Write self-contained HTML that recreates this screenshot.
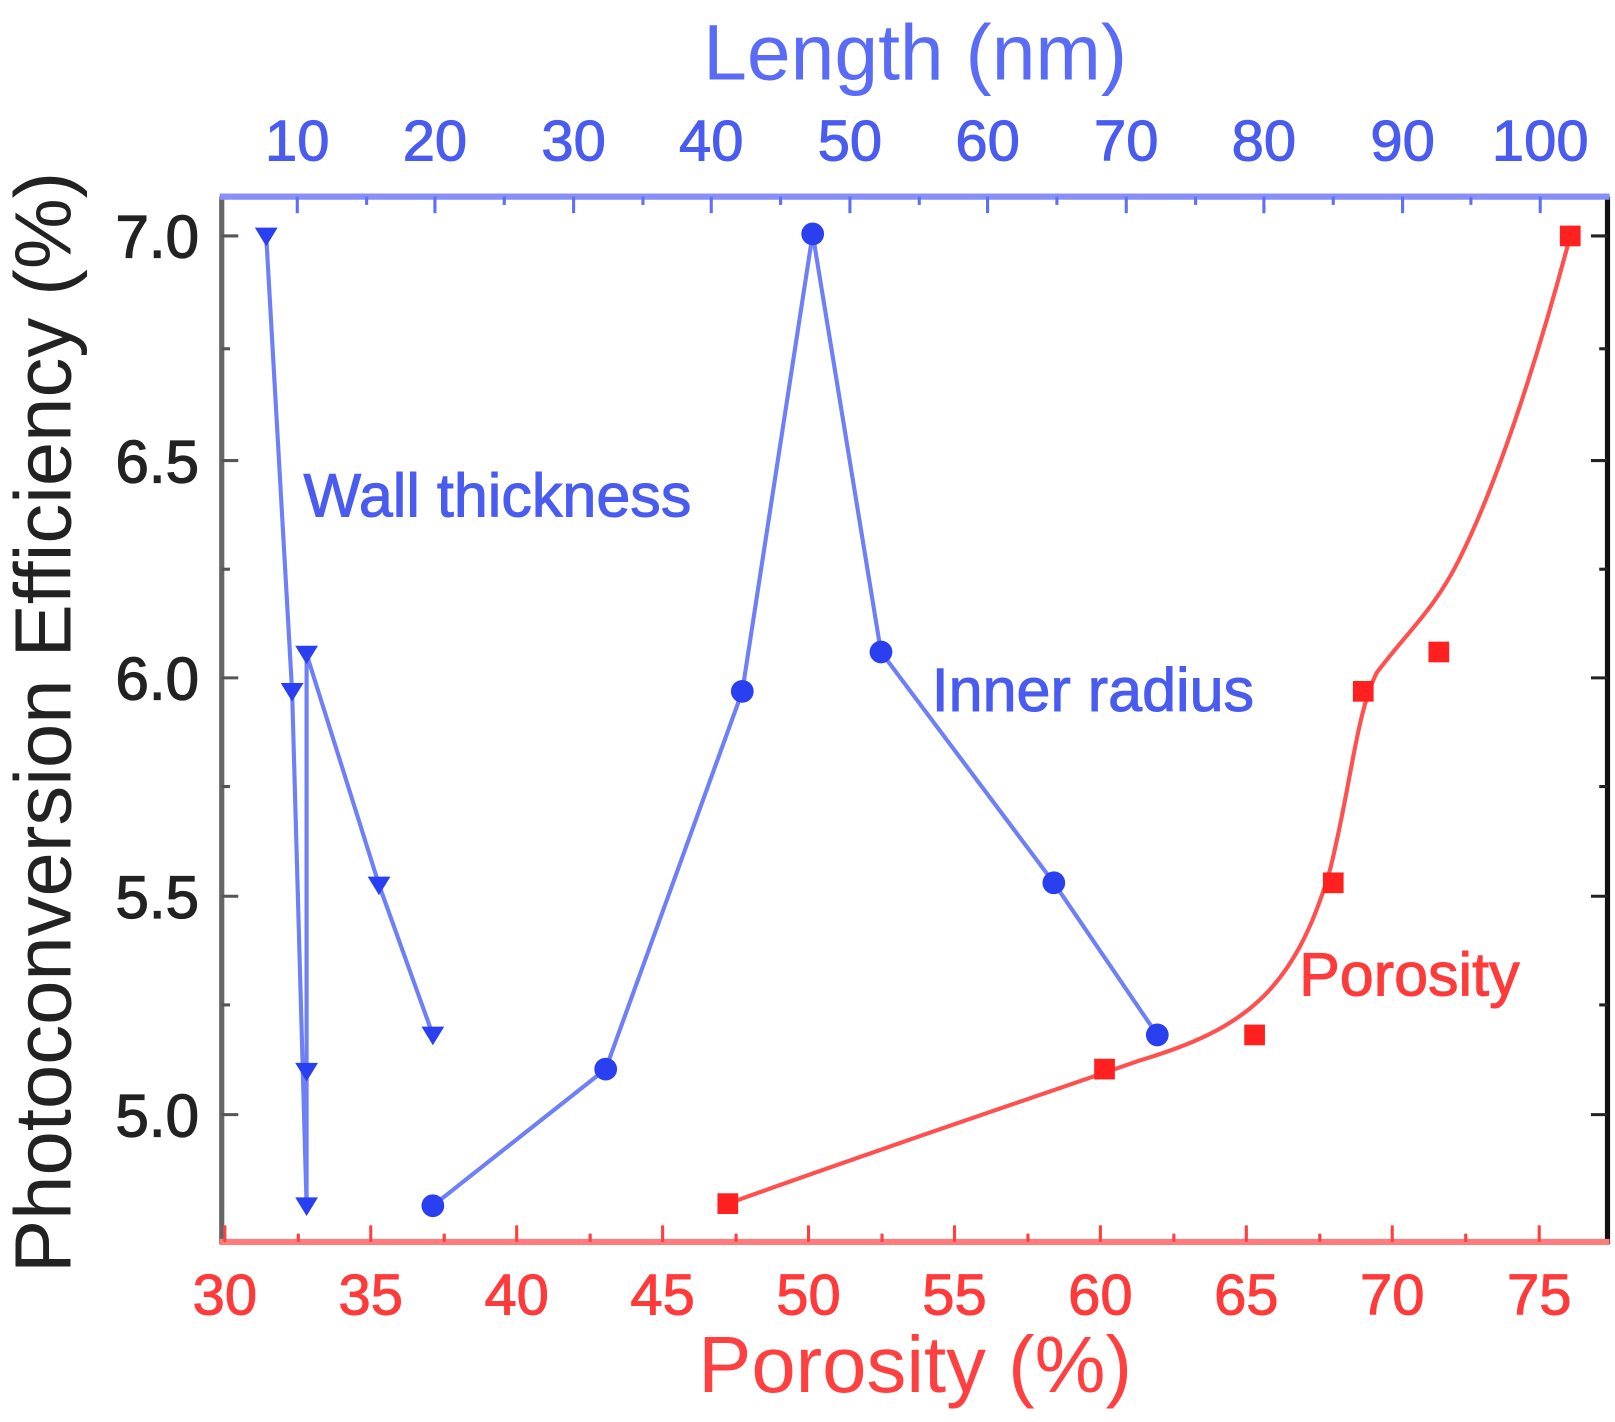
<!DOCTYPE html>
<html><head><style>html,body{margin:0;padding:0;background:#fff}svg{display:block}</style></head>
<body>
<svg width="1615" height="1422" viewBox="0 0 1560 1374" xmlns="http://www.w3.org/2000/svg" font-family="Liberation Sans, sans-serif">
<rect width="1560" height="1374" fill="#fff"/>
<line x1="214" y1="190" x2="214" y2="1202" stroke="#666" stroke-width="5"/>
<line x1="1553" y1="190" x2="1553" y2="1202" stroke="#111" stroke-width="5"/>
<line x1="212" y1="190" x2="1555" y2="190" stroke="#8890f8" stroke-width="6"/>
<line x1="212" y1="1200" x2="1555" y2="1200" stroke="#ff7c7c" stroke-width="6"/>
<g stroke="#555" stroke-width="3">
<line x1="214" y1="228" x2="230" y2="228"/><line x1="214" y1="445" x2="230" y2="445"/><line x1="214" y1="655" x2="230" y2="655"/><line x1="214" y1="866" x2="230" y2="866"/><line x1="214" y1="1077" x2="230" y2="1077"/>
<line x1="214" y1="337" x2="222" y2="337"/><line x1="214" y1="550" x2="222" y2="550"/><line x1="214" y1="760" x2="222" y2="760"/><line x1="214" y1="971" x2="222" y2="971"/>
</g>
<g stroke="#222" stroke-width="3">
<line x1="1553" y1="228" x2="1537" y2="228"/><line x1="1553" y1="445" x2="1537" y2="445"/><line x1="1553" y1="655" x2="1537" y2="655"/><line x1="1553" y1="866" x2="1537" y2="866"/><line x1="1553" y1="1077" x2="1537" y2="1077"/>
<line x1="1553" y1="337" x2="1545" y2="337"/><line x1="1553" y1="550" x2="1545" y2="550"/><line x1="1553" y1="760" x2="1545" y2="760"/><line x1="1553" y1="971" x2="1545" y2="971"/>
</g>
<g font-size="58" fill="#222" stroke="#222" stroke-width="1.2" text-anchor="end">
<text x="192" y="249">7.0</text><text x="192" y="466">6.5</text><text x="192" y="676">6.0</text><text x="192" y="887">5.5</text><text x="192" y="1098">5.0</text>
</g>
<g font-size="56" fill="#ff3a3a" stroke="#ff3a3a" stroke-width="1" text-anchor="middle">
<text x="217" y="1270">30</text><text x="358" y="1270">35</text><text x="499" y="1270">40</text><text x="640" y="1270">45</text><text x="781" y="1270">50</text><text x="922" y="1270">55</text><text x="1063" y="1270">60</text><text x="1204" y="1270">65</text><text x="1345" y="1270">70</text><text x="1487" y="1270">75</text>
</g>
<g font-size="56" fill="#4a5cf0" stroke="#4a5cf0" stroke-width="1" text-anchor="middle">
<text x="287" y="155">10</text><text x="420" y="155">20</text><text x="554" y="155">30</text><text x="687" y="155">40</text><text x="821" y="155">50</text><text x="954" y="155">60</text><text x="1088" y="155">70</text><text x="1221" y="155">80</text><text x="1355" y="155">90</text><text x="1488" y="155">100</text>
</g>
<text x="884" y="77" font-size="76" fill="#5a6cf5" text-anchor="middle">Length (nm)</text>
<text x="884" y="1345" font-size="77" fill="#ff4040" text-anchor="middle">Porosity (%)</text>
<text transform="translate(68,698) rotate(-90)" font-size="77" fill="#222" text-anchor="middle">Photoconversion Efficiency (%)</text>
<polyline fill="none" stroke="#6e80f8" stroke-width="4" points="257,228 282,668 296,1165 296,1035 296,632 366,855 418,1000"/>
<g fill="#2a40f0">
<path d="M246,220h22l-11,18z"/><path d="M271,660h22l-11,18z"/><path d="M285,624h22l-11,18z"/><path d="M285,1027h22l-11,18z"/><path d="M285,1157h22l-11,18z"/><path d="M355,847h22l-11,18z"/><path d="M407,992h22l-11,18z"/>
</g>
<polyline fill="none" stroke="#6e80f8" stroke-width="4" points="418,1165 585,1033 717,668 785,226 851,630 1018,853 1118,1000"/>
<g fill="#2a40f0">
<circle cx="418" cy="1165" r="11"/><circle cx="585" cy="1033" r="11"/><circle cx="717" cy="668" r="11"/><circle cx="785" cy="226" r="11"/><circle cx="851" cy="630" r="11"/><circle cx="1018" cy="853" r="11"/><circle cx="1118" cy="1000" r="11"/>
</g>
<path fill="none" stroke="#ff5050" stroke-width="4" d="M703,1163 C850,1110 1000,1060 1100,1025 C1200,995 1250,960 1285,840 C1305,760 1310,690 1330,650 C1360,610 1385,590 1410,540 C1450,460 1490,330 1517,228"/>
<g fill="#ff2020">
<rect x="693" y="1153" width="20" height="20"/><rect x="1057" y="1023" width="20" height="20"/><rect x="1202" y="990" width="20" height="20"/><rect x="1278" y="843" width="20" height="20"/><rect x="1307" y="658" width="20" height="20"/><rect x="1380" y="620" width="20" height="20"/><rect x="1507" y="218" width="20" height="20"/>
</g>
<g font-size="59" stroke-width="1">
<text x="293" y="499" fill="#4a5cf0" stroke="#4a5cf0">Wall thickness</text>
<text x="900" y="687" fill="#4a5cf0" stroke="#4a5cf0">Inner radius</text>
<text x="1255" y="962" fill="#ff3a3a" stroke="#ff3a3a">Porosity</text>
</g>
<g stroke="#ff4040" stroke-width="3">
<line x1="217" y1="1200" x2="217" y2="1184"/><line x1="358" y1="1200" x2="358" y2="1184"/><line x1="499" y1="1200" x2="499" y2="1184"/><line x1="640" y1="1200" x2="640" y2="1184"/><line x1="781" y1="1200" x2="781" y2="1184"/><line x1="922" y1="1200" x2="922" y2="1184"/><line x1="1063" y1="1200" x2="1063" y2="1184"/><line x1="1204" y1="1200" x2="1204" y2="1184"/><line x1="1345" y1="1200" x2="1345" y2="1184"/><line x1="1487" y1="1200" x2="1487" y2="1184"/>
<line x1="288" y1="1200" x2="288" y2="1192"/><line x1="429" y1="1200" x2="429" y2="1192"/><line x1="570" y1="1200" x2="570" y2="1192"/><line x1="711" y1="1200" x2="711" y2="1192"/><line x1="852" y1="1200" x2="852" y2="1192"/><line x1="993" y1="1200" x2="993" y2="1192"/><line x1="1134" y1="1200" x2="1134" y2="1192"/><line x1="1275" y1="1200" x2="1275" y2="1192"/><line x1="1416" y1="1200" x2="1416" y2="1192"/>
</g>
<g stroke="#6070f0" stroke-width="3">
<line x1="287" y1="190" x2="287" y2="206"/><line x1="420" y1="190" x2="420" y2="206"/><line x1="554" y1="190" x2="554" y2="206"/><line x1="687" y1="190" x2="687" y2="206"/><line x1="821" y1="190" x2="821" y2="206"/><line x1="954" y1="190" x2="954" y2="206"/><line x1="1088" y1="190" x2="1088" y2="206"/><line x1="1221" y1="190" x2="1221" y2="206"/><line x1="1355" y1="190" x2="1355" y2="206"/><line x1="1488" y1="190" x2="1488" y2="206"/>
<line x1="354" y1="190" x2="354" y2="198"/><line x1="487" y1="190" x2="487" y2="198"/><line x1="621" y1="190" x2="621" y2="198"/><line x1="754" y1="190" x2="754" y2="198"/><line x1="888" y1="190" x2="888" y2="198"/><line x1="1021" y1="190" x2="1021" y2="198"/><line x1="1155" y1="190" x2="1155" y2="198"/><line x1="1288" y1="190" x2="1288" y2="198"/><line x1="1421" y1="190" x2="1421" y2="198"/>
</g>
</svg>
</body></html>
